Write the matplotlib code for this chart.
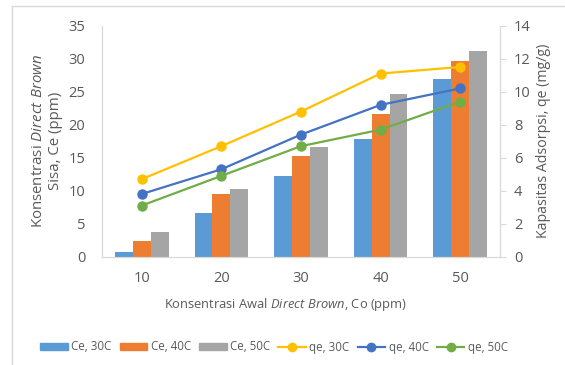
import numpy as np
import matplotlib
matplotlib.use('Agg')
import matplotlib.pyplot as plt
from matplotlib.lines import Line2D
from matplotlib.patches import Patch

plt.rcParams['font.family'] = ['Open Sans', 'DejaVu Sans']
plt.rcParams['mathtext.fontset'] = 'custom'
plt.rcParams['mathtext.rm'] = 'Open Sans'
plt.rcParams['mathtext.it'] = 'Open Sans:italic'

# -----------------------------------------------------------------------------------------

co = ['10', '20', '30', '40', '50']

ce_30 = [0.7, 6.6, 12.3, 17.9, 26.9]
ce_40 = [2.4, 9.5, 15.2, 21.6, 29.6]
ce_50 = [3.7, 10.2, 16.6, 24.6, 31.1]

qe_30 = [4.7, 6.7, 8.8, 11.1, 11.5]
qe_40 = [3.8, 5.3, 7.4, 9.2, 10.2]
qe_50 = [3.1, 4.9, 6.7, 7.7, 9.4]

bar_colors = ['#5B9BD5', '#ED7D31', '#A5A5A5']
line_colors = ['#FFC000', '#4472C4', '#70AD47']
txt = '#595959'
grid = '#D9D9D9'

# -----------------------------------------------------------------------------------------

fig = plt.figure(figsize=(5.65, 3.65), dpi=100)
ax = fig.add_axes([102/565., 1 - 256.7/365., 398/565., 231/365.])
ax2 = ax.twinx()

x = np.arange(len(co))
w = 0.225
for k, (vals, c) in enumerate(zip([ce_30, ce_40, ce_50], bar_colors)):
    ax.bar(x + (k - 1)*w, vals, w, color=c, zorder=2)

for vals, c in zip([qe_30, qe_40, qe_50], line_colors):
    ax2.plot(x, vals, color=c, lw=1.6, marker='o', ms=6.5, zorder=3)

ax.set_xlim(-0.5, 4.5)
ax.set_ylim(0, 35)
ax.set_yticks(np.arange(0, 36, 5))
ax2.set_ylim(0, 14)
ax2.set_yticks(np.arange(0, 15, 2))
ax.set_xticks(x)
ax.set_xticklabels(co)

for a in (ax, ax2):
    for s in a.spines.values():
        s.set_color(grid)
    a.spines['top'].set_visible(False)

ax.tick_params(axis='both', length=0, labelsize=10.5, labelcolor=txt)
ax.tick_params(axis='y', pad=12)
ax.tick_params(axis='x', pad=10)
ax2.tick_params(axis='y', length=4, color=grid, labelsize=10.5, labelcolor=txt, pad=6)

ax.set_ylabel('Konsentrasi $\\it{Direct\\ Brown}$\nSisa, Ce (ppm)', fontsize=10.8,
              color=txt, labelpad=4, linespacing=1.2)
ax2.set_ylabel('Kapasitas Adsorpsi, qe (mg/g)', fontsize=10.2, color=txt, labelpad=4)
ax.set_xlabel('Konsentrasi Awal $\\it{Direct\\ Brown}$, Co (ppm)', fontsize=9.3, color=txt)
ax.xaxis.set_label_coords(0.46, -0.168)

handles = [Patch(color=c) for c in bar_colors] + \
          [Line2D([], [], color=c, lw=1.6, marker='o', ms=6) for c in line_colors]
labels = ['Ce, 30C', 'Ce, 40C', 'Ce, 50C', 'qe, 30C', 'qe, 40C', 'qe, 50C']
fig.legend(handles, labels, loc='center', bbox_to_anchor=(274/565., 1 - 347/365.), ncol=6,
           frameon=False, fontsize=8.3, labelcolor=txt, handlelength=2.4, handleheight=0.6,
           handletextpad=0.3, columnspacing=0.7)

# chart frame
fig.add_artist(plt.Line2D([12/565., 12/565.], [0, 1 - 6/365.], color=grid, lw=1))
fig.add_artist(plt.Line2D([12/565., 1], [1 - 6/365., 1 - 6/365.], color=grid, lw=1))

fig.savefig('out.png', dpi=100)
